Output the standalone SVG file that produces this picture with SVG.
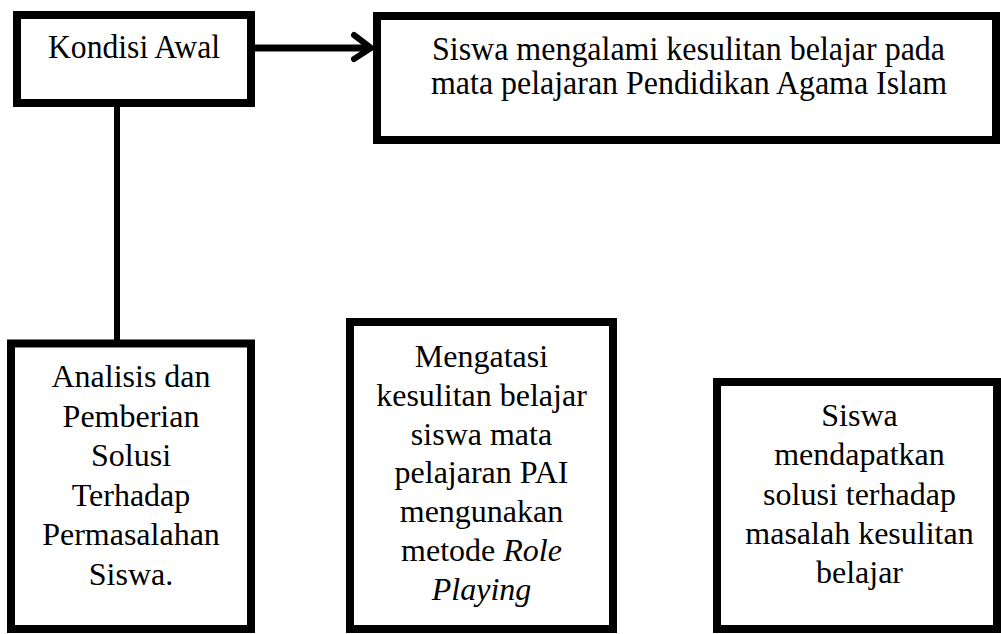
<svg xmlns="http://www.w3.org/2000/svg" width="1001" height="634" viewBox="0 0 1001 634">
  <style>
    .box { fill: #ffffff; stroke: #000000; stroke-width: 8; }
    .t { font-family: "Liberation Serif", "Times New Roman", serif; font-size: 32px; fill: #000000; text-anchor: middle; }
    .tall { font-size: 34.5px; }
    .conn { stroke: #000000; fill: none; }
  </style>
  <rect width="1001" height="634" fill="#ffffff"/>
  <g id="connectors">
    <line class="conn" x1="255" y1="48" x2="370" y2="48" stroke-width="7"/>
    <polyline class="conn" points="354,35 371,48 354,59" stroke-width="6" stroke-linecap="round" stroke-linejoin="round"/>
    <line class="conn" x1="117" y1="107" x2="117" y2="340" stroke-width="6"/>
  </g>
  <g id="node-kondisi-awal">
    <rect class="box" x="17" y="15" width="234" height="88"/>
    <text class="t tall" x="134" y="58" textLength="172" lengthAdjust="spacingAndGlyphs">Kondisi Awal</text>
  </g>
  <g id="node-siswa-kesulitan">
    <rect class="box" x="377" y="16" width="619" height="124"/>
    <text class="t tall" x="688.5" y="59.5" textLength="513" lengthAdjust="spacingAndGlyphs">Siswa mengalami kesulitan belajar pada</text>
    <text class="t tall" x="689" y="94" textLength="516" lengthAdjust="spacingAndGlyphs">mata pelajaran Pendidikan Agama Islam</text>
  </g>
  <g id="node-analisis">
    <rect class="box" x="11" y="343.5" width="240" height="285.5"/>
    <text class="t" x="131" y="387">Analisis dan</text>
    <text class="t" x="131" y="426.6">Pemberian</text>
    <text class="t" x="131" y="466.2">Solusi</text>
    <text class="t" x="131" y="505.8">Terhadap</text>
    <text class="t" x="131" y="545.4">Permasalahan</text>
    <text class="t" x="131" y="585">Siswa.</text>
  </g>
  <g id="node-mengatasi">
    <rect class="box" x="350" y="322" width="263" height="307"/>
    <text class="t" x="481.5" y="366.7">Mengatasi</text>
    <text class="t" x="481.5" y="405.6">kesulitan belajar</text>
    <text class="t" x="481.5" y="444.5">siswa mata</text>
    <text class="t" x="481.5" y="483.4">pelajaran PAI</text>
    <text class="t" x="481.5" y="522.3">mengunakan</text>
    <text class="t" x="481.5" y="561.2">metode <tspan font-style="italic">Role</tspan></text>
    <text class="t" x="481.5" y="600.1" font-style="italic">Playing</text>
  </g>
  <g id="node-solusi">
    <rect class="box" x="717" y="382" width="280" height="247"/>
    <text class="t" x="859.5" y="426">Siswa</text>
    <text class="t" x="859.5" y="465.3">mendapatkan</text>
    <text class="t" x="859.5" y="504.6">solusi terhadap</text>
    <text class="t" x="859.5" y="543.9">masalah kesulitan</text>
    <text class="t" x="859.5" y="583.2">belajar</text>
  </g>
</svg>
